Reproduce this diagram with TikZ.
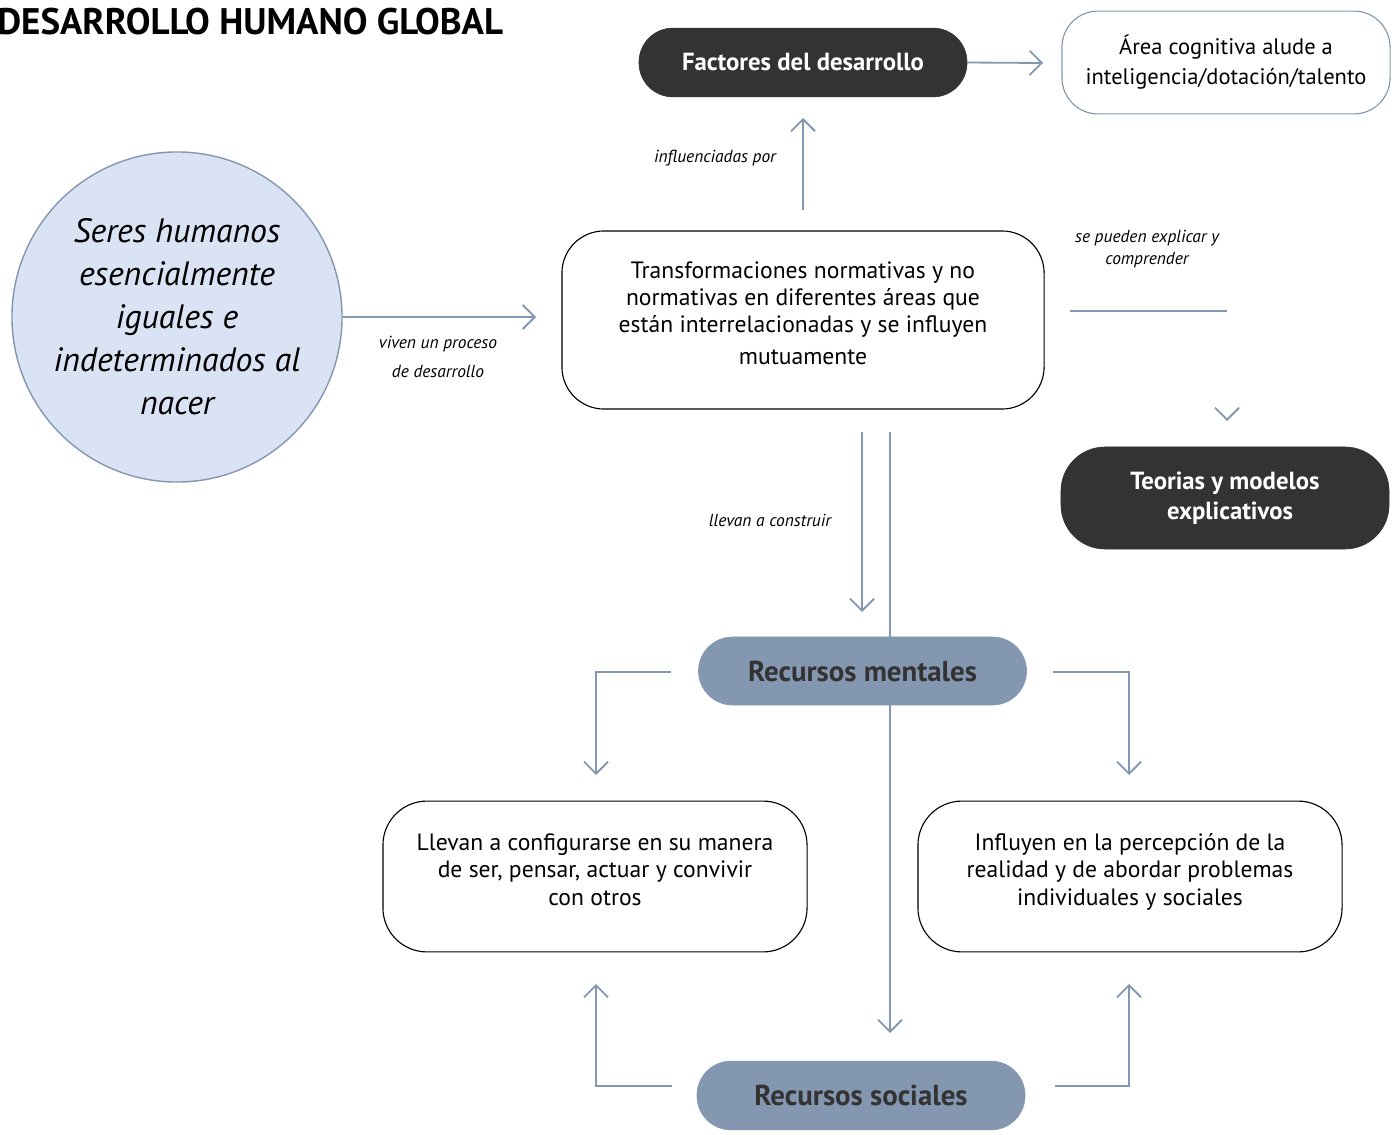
\documentclass[tikz,border=0pt]{standalone}
\usepackage{fontspec}
\setmainfont{PT Sans}
\usetikzlibrary{arrows.meta, positioning, shapes.geometric}
\definecolor{oscuro}{HTML}{333333}
\definecolor{grisazul}{HTML}{8497B0}
\definecolor{celeste}{HTML}{DAE3F3}
\newcommand\txtsize[2]{\fontsize{#1}{#2}\selectfont}
\tikzset{
  conn/.style={draw=grisazul, line width=1.3pt, -{Straight Barb[length=0.3cm, width=0.6cm, line width=1.3pt]}},
  plainline/.style={draw=grisazul, line width=1.3pt},
  darkbox/.style={fill=oscuro, draw=oscuro, text=white, font=\txtsize{17.6pt}{21.5pt}\bfseries, align=center, inner sep=0pt},
  resbox/.style={fill=grisazul, draw=grisazul, text=oscuro, font=\txtsize{20.5pt}{24pt}\bfseries, align=center, inner sep=0pt, minimum width=8.2cm, minimum height=1.7cm, rounded corners=0.85cm},
  whitebox/.style={fill=white, draw=black, line width=0.8pt, align=center, inner sep=0pt, font=\txtsize{16.8pt}{19.5pt}},
  lbl/.style={font=\txtsize{12.4pt}{15.5pt}\itshape, align=center, inner sep=0pt},
}
\begin{document}
\begin{tikzpicture}[x=0.025cm, y=-0.025cm]
\useasboundingbox (0,0) rectangle (1399,1135);

\node[anchor=west, font=\txtsize{26.3pt}{30pt}\bfseries, inner sep=0pt] (titulo) at (-3,22) {DESARROLLO HUMANO GLOBAL};

% nodos principales
\node[circle, fill=celeste, draw=grisazul, line width=1pt, minimum size=8.25cm, inner sep=0pt, align=center, font=\txtsize{24pt}{30.6pt}\itshape] (seres) at (177,317) {Seres humanos\\esencialmente\\iguales e\\indeterminados al\\nacer};
\node[darkbox, minimum width=8.2cm, minimum height=1.72cm, rounded corners=0.85cm] (factores) at (803,62.5) {Factores del desarrollo};
\node[whitebox, draw=grisazul, font=\txtsize{16pt}{21pt}, minimum width=8.2cm, minimum height=2.57cm, rounded corners=0.9cm] (area) at (1226,62.5) {Área cognitiva alude a\\inteligencia/dotación/talento\\[-17pt]};
\node[whitebox, minimum width=12.05cm, minimum height=4.45cm, rounded corners=1.05cm] (trans) at (803,320) {Transformaciones normativas y no\\normativas en diferentes áreas que\\están interrelacionadas y se influyen\\[3pt]mutuamente\\[-9.5pt]};
\node[darkbox, minimum width=8.2cm, minimum height=2.55cm, rounded corners=1.1cm] (teorias) at (1225,498) {Teorias y modelos\\\hspace*{0.25cm}explicativos\\[-18pt]};
\node[resbox] (mentales) at (862.5,671) {Recursos mentales};
\node[resbox, minimum height=1.72cm] (sociales) at (861,1095.5) {Recursos sociales};
\node[whitebox, minimum width=10.6cm, minimum height=3.77cm, rounded corners=1.1cm] (llevan) at (595,876.5) {Llevan a configurarse en su manera\\de ser, pensar, actuar y convivir\\con otros\\[-9.5pt]};
\node[whitebox, minimum width=10.6cm, minimum height=3.77cm, rounded corners=1.1cm] (influyen) at (1130,876.5) {Influyen en la percepción de la\\realidad y de abordar problemas\\individuales y sociales\\[-9.5pt]};

% extremos libres
\coordinate (c1) at (536,317);
\coordinate (c2) at (1043,63);
\coordinate (c3) at (803,210);
\coordinate (c4) at (803,118);
\coordinate (c5) at (1070,311);
\coordinate (c6) at (1227,311);
\coordinate (c7) at (1227,421);
\coordinate (c8) at (862,432);
\coordinate (c9) at (862,612);
\coordinate (c10) at (890,432);
\coordinate (c11) at (890,1033);
\coordinate (m1) at (671,672);
\coordinate (m2) at (596,775);
\coordinate (m3) at (1053,672);
\coordinate (m4) at (1129,775);
\coordinate (s1) at (672,1086);
\coordinate (s2) at (596,984);
\coordinate (s3) at (1055,1086);
\coordinate (s4) at (1129,984);

% conectores
\draw[conn] (seres.east) -- (c1);
\draw[conn] (factores.east) -- (c2);
\draw[conn] (c3) -- (c4);
\draw[plainline] (c5) -- (c6);
\draw[conn] ([yshift=1pt]c7) -- (c7);
\draw[conn] (c8) -- (c9);
\draw[plainline] (c10) -- (mentales.north -| c10);
\draw[conn] (mentales.south -| c10) -- (c11);
\draw[conn] (m1) -| (m2);
\draw[conn] (m3) -| (m4);
\draw[conn] (s1) -| (s2);
\draw[conn] (s3) -| (s4);

% etiquetas
\node[lbl] (l1) at (715,158) {influenciadas por};
\node[lbl, font=\txtsize{12.4pt}{21pt}\itshape] (l2) at (438,357) {viven un proceso\\de desarrollo};
\node[lbl] (l3) at (1147,249) {se pueden explicar y\\comprender};
\node[lbl] (l4) at (770,520) {llevan a construir};
\end{tikzpicture}
\end{document}
